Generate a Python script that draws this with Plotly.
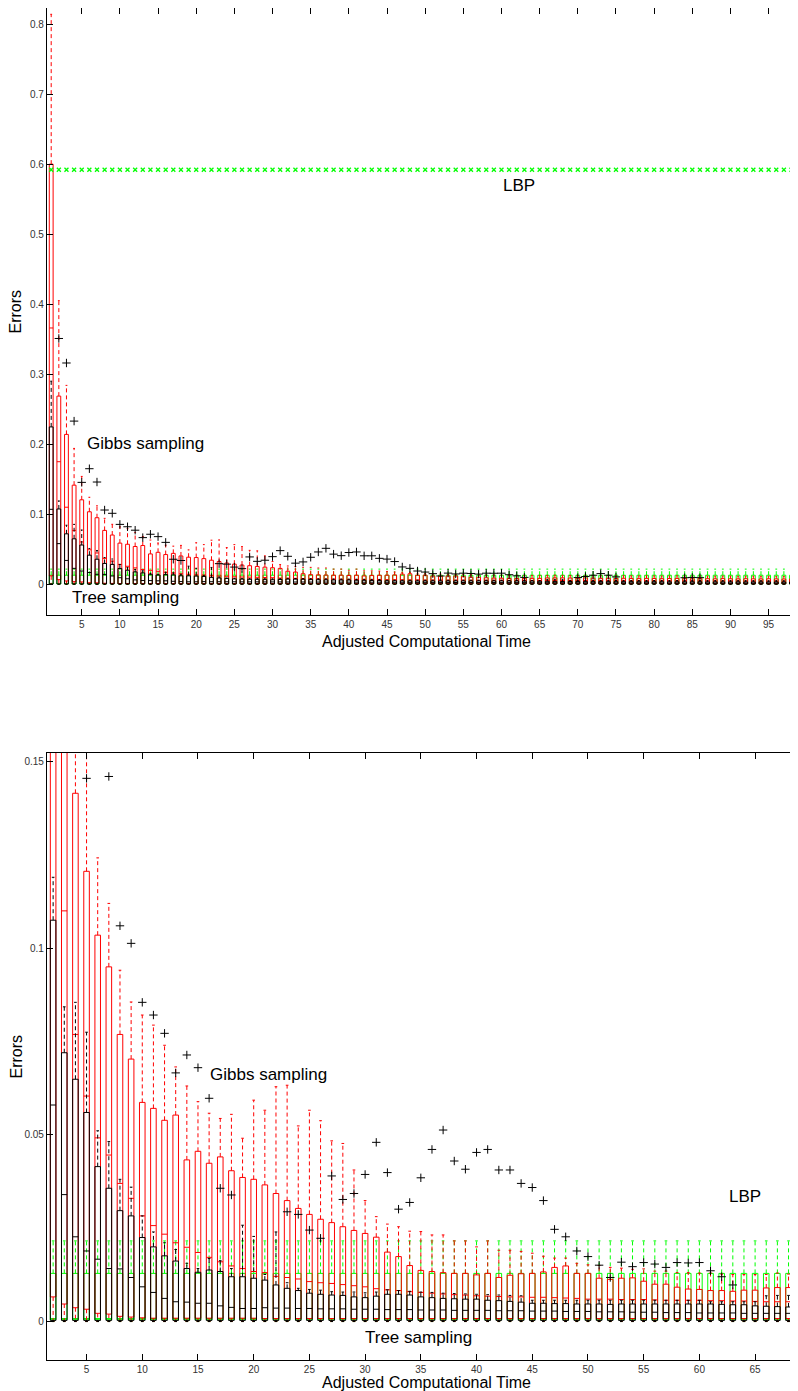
import plotly.graph_objects as go

# ---------------- data ----------------
x_time = list(range(1, 99))

# Gibbs sampling (red boxes)
gibbs_q3 = [0.600, 0.2687, 0.214, 0.1415, 0.1206, 0.1035, 0.0950, 0.0769, 0.0703, 0.0587,
            0.0571, 0.0539, 0.0553, 0.0433, 0.0456, 0.0424, 0.0441, 0.0404, 0.0386, 0.0381,
            0.0366, 0.0343, 0.0324, 0.0303, 0.0287, 0.0274, 0.0265, 0.0254, 0.0244, 0.0236,
            0.0226, 0.0186, 0.0174, 0.0150, 0.0137, 0.0134, 0.0131, 0.0129, 0.0129, 0.0125,
            0.0129, 0.0118, 0.0124, 0.0128, 0.0129, 0.0133, 0.0145, 0.0149, 0.0129, 0.0129,
            0.0116, 0.0113, 0.0116, 0.0117, 0.0108, 0.0100, 0.0100, 0.0092, 0.0087, 0.0086,
            0.0083, 0.0083, 0.0081, 0.0084, 0.0084, 0.0090, 0.0091, 0.0091, 0.0088, 0.0085,
            0.0090, 0.0087, 0.0084, 0.0086, 0.0082, 0.0085, 0.0083, 0.0080, 0.0084, 0.0082,
            0.0079, 0.0081, 0.0083, 0.0080, 0.0078, 0.0081, 0.0079, 0.0077, 0.0080, 0.0078,
            0.0076, 0.0079, 0.0077, 0.0075, 0.0078, 0.0076, 0.0074, 0.0076]
gibbs_med = [0.366, 0.175, 0.110, 0.0769, 0.0604, 0.0492, 0.0446, 0.0370, 0.0330, 0.0283,
             0.0257, 0.0234, 0.0211, 0.0199, 0.0185, 0.0172, 0.0160, 0.0149, 0.0142, 0.0134,
             0.0131, 0.0121, 0.0118, 0.0114, 0.0107, 0.0104, 0.0102, 0.0099, 0.0096, 0.0093,
             0.0088, 0.0085, 0.0083, 0.0080, 0.0078, 0.0076, 0.0074, 0.0072, 0.0071, 0.0069,
             0.0068, 0.0067, 0.0066, 0.0066, 0.0065, 0.0065, 0.0064, 0.0063, 0.0062, 0.0060,
             0.0060, 0.0060, 0.0059, 0.0059, 0.0059, 0.0058, 0.0057, 0.0057, 0.0057, 0.0057,
             0.0056, 0.0056, 0.0055, 0.0055, 0.0054, 0.0053, 0.0053, 0.0053, 0.0053, 0.0052,
             0.0052, 0.0052, 0.0051, 0.0051, 0.0051, 0.0050, 0.0050, 0.0050, 0.0049, 0.0049,
             0.0049, 0.0048, 0.0048, 0.0048, 0.0047, 0.0047, 0.0047, 0.0046, 0.0046, 0.0046,
             0.0045, 0.0045, 0.0045, 0.0044, 0.0044, 0.0044, 0.0043, 0.0043]
gibbs_q1 = [0.012, 0.0066, 0.0047, 0.0037, 0.0033, 0.0022, 0.0020, 0.0014, 0.0012, 0.0010,
            0.0009, 0.0009, 0.0009, 0.0009, 0.0009, 0.0009, 0.0009, 0.0009, 0.0009, 0.0009,
            0.0008, 0.0008, 0.0008, 0.0008, 0.0008, 0.0008, 0.0008, 0.0008, 0.0008, 0.0008,
            0.0008, 0.0008, 0.0008, 0.0008, 0.0008, 0.0008, 0.0008, 0.0008, 0.0008, 0.0008,
            0.0008, 0.0008, 0.0008, 0.0008, 0.0008, 0.0008, 0.0008, 0.0008, 0.0008, 0.0008,
            0.0008, 0.0008, 0.0008, 0.0008, 0.0008, 0.0008, 0.0008, 0.0008, 0.0008, 0.0008,
            0.0008, 0.0008, 0.0008, 0.0008, 0.0008, 0.0008, 0.0008, 0.0008, 0.0008, 0.0008,
            0.0008, 0.0008, 0.0008, 0.0008, 0.0008, 0.0008, 0.0008, 0.0008, 0.0008, 0.0008,
            0.0008, 0.0008, 0.0008, 0.0008, 0.0008, 0.0008, 0.0008, 0.0008, 0.0008, 0.0008,
            0.0008, 0.0008, 0.0008, 0.0008, 0.0008, 0.0008, 0.0008, 0.0008]
gibbs_hi = [0.814, 0.405, 0.284, 0.194, 0.154, 0.1242, 0.112, 0.0941, 0.0856, 0.0821,
            0.0794, 0.0740, 0.0682, 0.0631, 0.0589, 0.0558, 0.0544, 0.0555, 0.0491, 0.0593,
            0.0566, 0.0629, 0.0633, 0.0524, 0.0566, 0.0538, 0.0484, 0.0477, 0.0406, 0.0324,
            0.0281, 0.0261, 0.0254, 0.0242, 0.0241, 0.0232, 0.0232, 0.0216, 0.0216, 0.0200,
            0.0216, 0.0191, 0.0191, 0.0188, 0.0183, 0.0175, 0.0170, 0.0170, 0.0156, 0.0152,
            0.0150, 0.0145, 0.0143, 0.0140, 0.0141, 0.0135, 0.0135, 0.0131, 0.0131, 0.0130,
            0.0130, 0.0127, 0.0126, 0.0126, 0.0126, 0.0126, 0.0130, 0.0127, 0.0125, 0.0124,
            0.0126, 0.0123, 0.0122, 0.0124, 0.0121, 0.0122, 0.0120, 0.0119, 0.0121, 0.0119,
            0.0118, 0.0119, 0.0120, 0.0118, 0.0117, 0.0118, 0.0116, 0.0115, 0.0117, 0.0116,
            0.0114, 0.0115, 0.0114, 0.0113, 0.0114, 0.0113, 0.0112, 0.0113]
gibbs_lo = [0.0] * 98

# Tree sampling (black boxes)
tree_q3 = [0.2247, 0.1075, 0.0720, 0.0649, 0.0560, 0.0415, 0.0357, 0.0297, 0.0283, 0.0225,
           0.0200, 0.0176, 0.0162, 0.0142, 0.0132, 0.0138, 0.0134, 0.0120, 0.0120, 0.0116,
           0.0111, 0.0098, 0.0089, 0.0083, 0.0076, 0.0073, 0.0071, 0.0070, 0.0066, 0.0064,
           0.0068, 0.0073, 0.0073, 0.0071, 0.0066, 0.0064, 0.0062, 0.0061, 0.0060, 0.0060,
           0.0057, 0.0056, 0.0054, 0.0052, 0.0049, 0.0049, 0.0048, 0.0048, 0.0047, 0.0047,
           0.0047, 0.0046, 0.0047, 0.0047, 0.0047, 0.0047, 0.0047, 0.0047, 0.0047, 0.0047,
           0.0047, 0.0046, 0.0045, 0.0045, 0.0042, 0.0041, 0.0040, 0.0039, 0.0039, 0.0039,
           0.0038, 0.0038, 0.0038, 0.0037, 0.0037, 0.0037, 0.0037, 0.0036, 0.0036, 0.0036,
           0.0036, 0.0035, 0.0035, 0.0035, 0.0035, 0.0035, 0.0034, 0.0034, 0.0034, 0.0034,
           0.0034, 0.0033, 0.0033, 0.0033, 0.0033, 0.0033, 0.0032, 0.0032]
tree_med = [0.107, 0.058, 0.034, 0.0227, 0.0189, 0.0167, 0.0142, 0.0141, 0.0118, 0.0093,
            0.0078, 0.0062, 0.0053, 0.0052, 0.0049, 0.0049, 0.0042, 0.0038, 0.0035, 0.0035,
            0.0037, 0.0036, 0.0036, 0.0035, 0.0035, 0.0034, 0.0034, 0.0034, 0.0033, 0.0033,
            0.0033, 0.0032, 0.0032, 0.0032, 0.0031, 0.0031, 0.0031, 0.0030, 0.0030, 0.0030,
            0.0030, 0.0029, 0.0029, 0.0029, 0.0028, 0.0028, 0.0028, 0.0027, 0.0027, 0.0027,
            0.0026, 0.0026, 0.0026, 0.0025, 0.0025, 0.0025, 0.0024, 0.0024, 0.0024, 0.0023,
            0.0023, 0.0023, 0.0023, 0.0022, 0.0022, 0.0022, 0.0022, 0.0022, 0.0021, 0.0021,
            0.0021, 0.0021, 0.0021, 0.0020, 0.0020, 0.0020, 0.0020, 0.0020, 0.0020, 0.0019,
            0.0019, 0.0019, 0.0019, 0.0019, 0.0019, 0.0019, 0.0018, 0.0018, 0.0018, 0.0018,
            0.0018, 0.0018, 0.0018, 0.0018, 0.0018, 0.0018, 0.0018, 0.0018]
tree_q1 = [0.0003] * 98
tree_hi = [0.290, 0.119, 0.0843, 0.0855, 0.0775, 0.0511, 0.0482, 0.0381, 0.0360, 0.0283,
           0.0240, 0.0211, 0.0193, 0.0156, 0.0142, 0.0169, 0.0163, 0.0142, 0.0258, 0.0228,
           0.0126, 0.0240, 0.0104, 0.0089, 0.0086, 0.0084, 0.0080, 0.0079, 0.0079, 0.0077,
           0.0079, 0.0085, 0.0083, 0.0081, 0.0079, 0.0078, 0.0076, 0.0075, 0.0074, 0.0073,
           0.0072, 0.0071, 0.0070, 0.0069, 0.0057, 0.0057, 0.0057, 0.0057, 0.0057, 0.0057,
           0.0057, 0.0057, 0.0057, 0.0057, 0.0057, 0.0057, 0.0057, 0.0057, 0.0057, 0.0057,
           0.0053, 0.0053, 0.0053, 0.0053, 0.0053, 0.0069, 0.0070, 0.0070, 0.0056, 0.0056,
           0.0055, 0.0056, 0.0055, 0.0055, 0.0054, 0.0055, 0.0054, 0.0054, 0.0054, 0.0053,
           0.0054, 0.0053, 0.0053, 0.0053, 0.0052, 0.0053, 0.0052, 0.0052, 0.0052, 0.0051,
           0.0052, 0.0051, 0.0051, 0.0051, 0.0050, 0.0051, 0.0050, 0.0050]
tree_lo = [0.0] * 98

# LBP (green boxes, same at every time step) and LBP error level (green x)
lbp_lo, lbp_q1, lbp_med, lbp_q3, lbp_hi = 0.0, 0.0005, 0.0008, 0.0129, 0.0216
lbp_level = 0.592

# outliers (black +)
out_x = [2, 3, 4, 5, 6, 7, 8, 9, 10, 11, 12, 13, 14, 15, 16, 17, 18,
         23, 24, 25, 26, 27, 28, 29, 30, 31, 32, 33, 34, 35, 36, 37, 38, 39, 40,
         41, 42, 43, 44, 45, 46, 47, 48, 49, 50, 51, 52, 53, 54, 55, 56, 57, 58,
         59, 60, 61, 62, 63, 70, 71, 72, 73, 74, 75, 84, 85, 86]
out_y = [0.351, 0.316, 0.233, 0.1455, 0.165, 0.146, 0.106, 0.1013, 0.0855, 0.0821,
         0.0772, 0.0666, 0.0714, 0.068, 0.0598, 0.0357, 0.0339,
         0.0294, 0.0287, 0.0245, 0.0223, 0.039, 0.0327, 0.0343, 0.0394, 0.048, 0.0399,
         0.0301, 0.0319, 0.0385, 0.0461, 0.0513, 0.043, 0.0408, 0.0453, 0.0461, 0.0406,
         0.0406, 0.037, 0.0359, 0.0324, 0.0247, 0.0227, 0.0189, 0.0174, 0.0151, 0.0118,
         0.0159, 0.0147, 0.0158, 0.0154, 0.0145, 0.0158, 0.0157, 0.0158, 0.0136, 0.0120,
         0.0098, 0.0095, 0.0110, 0.0129, 0.0152, 0.0129, 0.0105, 0.0093, 0.0097, 0.0094]

top_xticks = [5, 10, 15, 20, 25, 30, 35, 40, 45, 50, 55, 60, 65, 70, 75, 80, 85, 90, 95]
top_yticks = [0, 0.1, 0.2, 0.3, 0.4, 0.5, 0.6, 0.7, 0.8]
bot_xticks = [5, 10, 15, 20, 25, 30, 35, 40, 45, 50, 55, 60, 65]
bot_yticks = [0, 0.05, 0.1, 0.15]

RED, BLACK, GREEN = "#ff0000", "#000000", "#00ff00"
FONT = "Liberation Sans, Arial, sans-serif"
W, CW = 0.25, 0.12


def box_traces(x, lo, q1, med, q3, hi, color, xa, ya):
    bx, by, mx, my, wx, wy, cx, cy = [], [], [], [], [], [], [], []
    for xi, l, a, m, b, h in zip(x, lo, q1, med, q3, hi):
        bx += [xi - W, xi + W, xi + W, xi - W, xi - W, None]
        by += [a, a, b, b, a, None]
        mx += [xi - W, xi + W, None]
        my += [m, m, None]
        wx += [xi, xi, None, xi, xi, None]
        wy += [b, h, None, a, l, None]
        cx += [xi - CW, xi + CW, None, xi - CW, xi + CW, None]
        cy += [h, h, None, l, l, None]
    common = dict(mode="lines", xaxis=xa, yaxis=ya, showlegend=False, hoverinfo="skip")
    return [
        go.Scatter(x=wx, y=wy, line=dict(color=color, width=1, dash="4px,3px"), **common),
        go.Scatter(x=cx, y=cy, line=dict(color=color, width=1), **common),
        go.Scatter(x=bx, y=by, line=dict(color=color, width=1), **common),
        go.Scatter(x=mx, y=my, line=dict(color=color, width=1), **common),
    ]


n = len(x_time)
fig = go.Figure()
for xa, ya in [("x", "y"), ("x2", "y2")]:
    for t in box_traces(x_time, [lbp_lo] * n, [lbp_q1] * n, [lbp_med] * n,
                        [lbp_q3] * n, [lbp_hi] * n, GREEN, xa, ya):
        fig.add_trace(t)
    for t in box_traces(x_time, gibbs_lo, gibbs_q1, gibbs_med, gibbs_q3, gibbs_hi, RED, xa, ya):
        fig.add_trace(t)
    for t in box_traces(x_time, tree_lo, tree_q1, tree_med, tree_q3, tree_hi, BLACK, xa, ya):
        fig.add_trace(t)
    fig.add_trace(go.Scatter(x=out_x, y=out_y, mode="markers", xaxis=xa, yaxis=ya,
                             marker=dict(symbol="cross-thin", size=6,
                                         line=dict(color=BLACK, width=1)),
                             showlegend=False, hoverinfo="skip"))

fig.add_trace(go.Scatter(x=x_time, y=[lbp_level] * n, mode="markers", xaxis="x", yaxis="y",
                         marker=dict(symbol="x-thin", size=4, line=dict(color=GREEN, width=1.3)),
                         showlegend=False, hoverinfo="skip"))

axis_common = dict(showline=True, linecolor="black", linewidth=1.2, mirror="ticks",
                   ticks="inside", ticklen=6, tickwidth=1, tickcolor="black",
                   showgrid=False, zeroline=False, automargin=False,
                   tickfont=dict(family=FONT, size=10, color="#333333"))

# page body has an 8px offset, so the figure is 8px smaller and margins shifted
fig.update_layout(
    template="none",
    width=790, height=1383,
    margin=dict(l=39, r=0, t=0, b=31, autoexpand=False),
    paper_bgcolor="white", plot_bgcolor="white",
    xaxis=dict(domain=[0, 1], anchor="y", range=[0.45, 98.85],
               tickmode="array", tickvals=top_xticks, **axis_common),
    yaxis=dict(domain=[0.5510, 1], anchor="x", range=[-0.044, 0.823],
               tickmode="array", tickvals=top_yticks,
               ticktext=["0", "0.1", "0.2", "0.3", "0.4", "0.5", "0.6", "0.7", "0.8"],
               **axis_common),
    xaxis2=dict(domain=[0, 1], anchor="y2", range=[1.45, 68.85],
                tickmode="array", tickvals=bot_xticks, **axis_common),
    yaxis2=dict(domain=[0, 0.4490], anchor="x2", range=[-0.0103, 0.1523],
                tickmode="array", tickvals=bot_yticks,
                ticktext=["0", "0.05", "0.1", "0.15"], **axis_common),
)

label_font = dict(family=FONT, size=17, color="black")
title_font = dict(family=FONT, size=16, color="black")
annots = [
    dict(text="LBP", x=62.3, y=0.570, xref="x", yref="y", font=label_font),
    dict(text="Gibbs sampling", x=13.3, y=0.2014, xref="x", yref="y", font=label_font),
    dict(text="Tree sampling", x=10.7, y=-0.0186, xref="x", yref="y", font=label_font),
    dict(text="Gibbs sampling", x=21.3, y=0.0663, xref="x2", yref="y2", font=label_font),
    dict(text="LBP", x=64.1, y=0.0336, xref="x2", yref="y2", font=label_font),
    dict(text="Tree sampling", x=34.8, y=-0.0044, xref="x2", yref="y2", font=label_font),
    dict(text="Errors", x=-0.0413, y=0.7755, xref="paper", yref="paper",
         textangle=-90, font=title_font),
    dict(text="Errors", x=-0.0413, y=0.2245, xref="paper", yref="paper",
         textangle=-90, font=title_font),
    dict(text="Adjusted Computational Time", x=0.5047, y=0.5315, xref="paper", yref="paper",
         font=title_font),
    dict(text="Adjusted Computational Time", x=0.5047, y=-0.0168, xref="paper", yref="paper",
         font=title_font),
]
for a in annots:
    a.update(showarrow=False, xanchor="center", yanchor="middle")
fig.update_layout(annotations=annots)

fig.write_html("out.html")
